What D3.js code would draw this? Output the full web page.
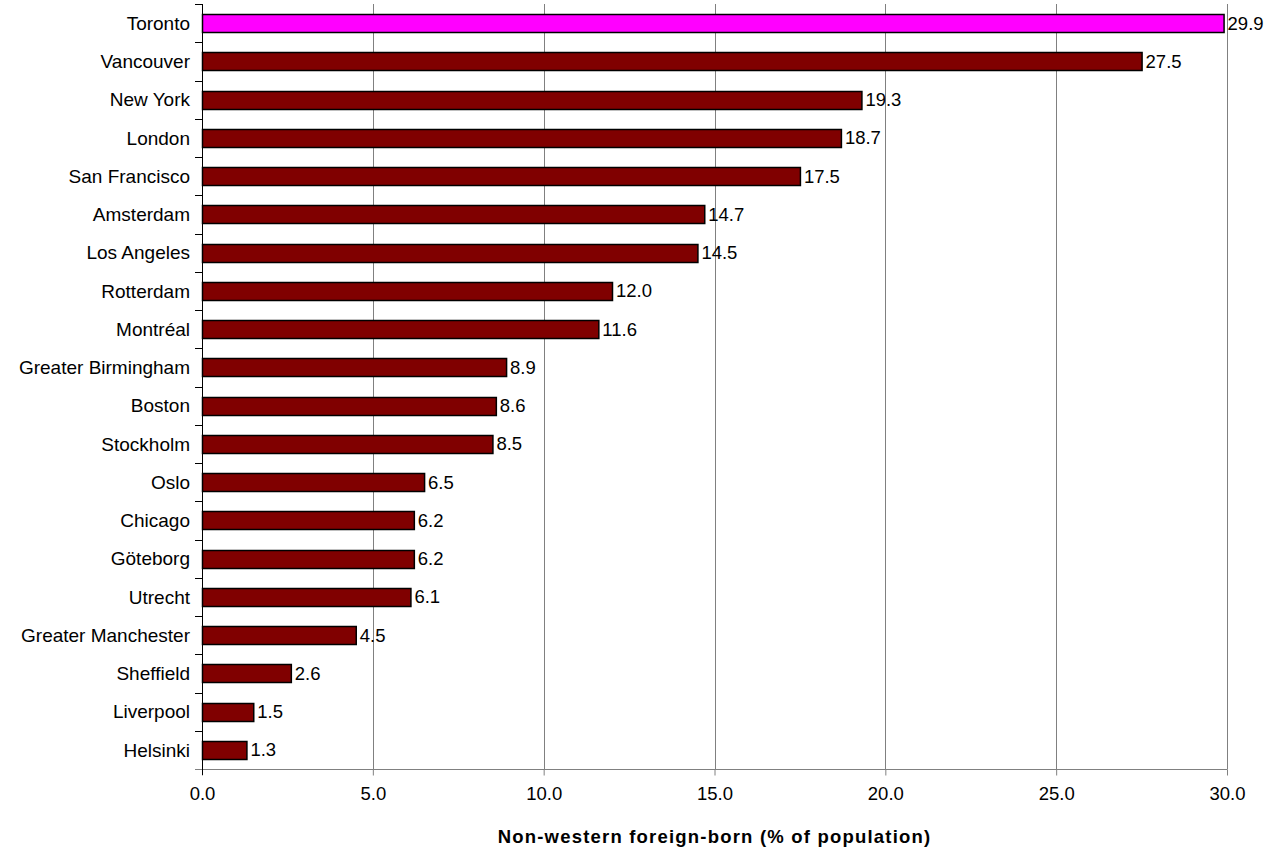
<!DOCTYPE html>
<html><head><meta charset="utf-8">
<script src="https://cdn.jsdelivr.net/npm/d3@7"></script>
<style>body{margin:0;background:#fff;} text{font-family:"Liberation Sans",Arial,sans-serif;}</style>
</head><body>
<svg id="c" width="1273" height="849"></svg>
<script>
const cities = ["Toronto","Vancouver","New York","London","San Francisco","Amsterdam","Los Angeles","Rotterdam","Montréal","Greater Birmingham","Boston","Stockholm","Oslo","Chicago","Göteborg","Utrecht","Greater Manchester","Sheffield","Liverpool","Helsinki"];
const values = [29.9,27.5,19.3,18.7,17.5,14.7,14.5,12.0,11.6,8.9,8.6,8.5,6.5,6.2,6.2,6.1,4.5,2.6,1.5,1.3];
const xTicks = [0,5,10,15,20,25,30];
const highlight = "Toronto";
const axisTitle = "Non-western foreign-born (% of population)";

const svg = d3.select("#c");
const L = 202, R = 1227, T = 4, B = 769;
const x = d3.scaleLinear().domain([0,30]).range([L,R]);
const y = d3.scaleBand().domain(cities).range([T,B]).paddingInner(0.525).paddingOuter(0.2625);
const band = d3.scaleBand().domain(cities).range([T,B]);

// gridlines
svg.append("g").selectAll("line").data(xTicks.slice(1)).join("line")
  .attr("x1",d=>Math.round(x(d))+0.5).attr("x2",d=>Math.round(x(d))+0.5).attr("y1",T).attr("y2",B)
  .attr("stroke","#808080").attr("stroke-width",1);

// x axis
const xa = svg.append("g").attr("transform",`translate(0,${B+0.5})`)
  .call(d3.axisBottom(x).tickValues(xTicks).tickFormat(d3.format(".1f")).tickSizeInner(6).tickSizeOuter(0));
xa.select(".domain").attr("stroke","#808080").attr("d",`M${L-7},0H${R+0.5}`);
xa.selectAll(".tick line").attr("stroke","#808080");
xa.selectAll(".tick text").attr("font-size",18.5).attr("fill","#000").attr("y",24).attr("dy","0.35em")
  .attr("font-family","Liberation Sans, Arial, sans-serif");

// y axis line and ticks at category boundaries
svg.append("line").attr("x1",L+0.5).attr("x2",L+0.5).attr("y1",T).attr("y2",B+6).attr("stroke","#000");
const bounds = cities.map(c=>band(c));
svg.append("g").selectAll("line").data(bounds).join("line")
  .attr("x1",L-7).attr("x2",L).attr("y1",d=>Math.round(d)+0.5).attr("y2",d=>Math.round(d)+0.5).attr("stroke","#000");

// category labels
svg.append("g").selectAll("text").data(cities).join("text")
  .attr("x",L-12).attr("y",d=>band(d)+band.bandwidth()/2).attr("dy","0.35em")
  .attr("text-anchor","end").attr("font-size",19).text(d=>d);

// bars
svg.append("g").selectAll("rect").data(cities).join("rect")
  .attr("x",L+0.5).attr("y",d=>Math.round(y(d))+0.5)
  .attr("width",(d,i)=>x(values[i])-L).attr("height",Math.round(y.bandwidth()))
  .attr("fill",d=>d===highlight?"#ff00ff":"#800000").attr("stroke","#000").attr("stroke-width",1.5);

// value labels
svg.append("g").selectAll("text").data(cities).join("text")
  .attr("x",(d,i)=>x(values[i])+4).attr("y",d=>band(d)+band.bandwidth()/2).attr("dy","0.35em")
  .attr("font-size",18.5).text((d,i)=>values[i].toFixed(1));

// axis title
svg.append("text").attr("x",(L+R)/2).attr("y",843).attr("text-anchor","middle")
  .attr("font-size",18.5).attr("font-weight","bold").attr("letter-spacing","1.2px").text(axisTitle);
</script>
</body></html>
